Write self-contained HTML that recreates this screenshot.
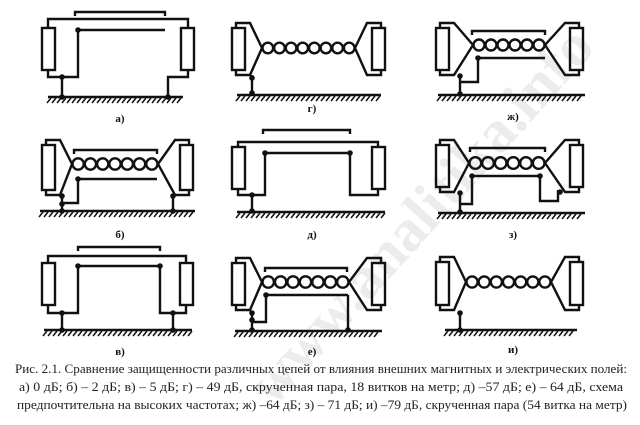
<!DOCTYPE html>
<html><head><meta charset="utf-8"><style>
html,body{margin:0;padding:0;background:#fff;width:640px;height:425px;overflow:hidden}
svg{display:block}
</style></head><body>
<svg id="s" width="640" height="425" viewBox="0 0 640 425" xmlns="http://www.w3.org/2000/svg" overflow="hidden">
<text x="420" y="235" transform="rotate(-48 420 215)" font-family="Liberation Serif, serif" font-size="60" font-weight="bold" fill="#ececec" text-anchor="middle">www.analitika.info</text>
<g id="d" stroke="#111" stroke-width="2.4" fill="none"></g>
<g font-family="Liberation Serif, serif" font-size="11" font-weight="bold" fill="#111" text-anchor="middle">
<text x="120" y="122">а)</text><text x="312" y="112">г)</text><text x="513" y="120">ж)</text>
<text x="120" y="238">б)</text><text x="312" y="238">д)</text><text x="513" y="238">з)</text>
<text x="120" y="355">в)</text><text x="312" y="355">е)</text><text x="513" y="353">и)</text>
</g>
<g font-family="Liberation Serif, serif" font-size="12.5" fill="#222">
<text x="15" y="373" textLength="612" lengthAdjust="spacingAndGlyphs">Рис. 2.1. Сравнение защищенности различных цепей от влияния внешних магнитных и электрических полей:</text>
<text x="19" y="391" textLength="604" lengthAdjust="spacingAndGlyphs">а) 0 дБ;  б) – 2 дБ;  в) – 5 дБ;  г) – 49 дБ, скрученная пара, 18 витков на метр;  д) –57 дБ;  е) – 64 дБ, схема</text>
<text x="17" y="409" textLength="610" lengthAdjust="spacingAndGlyphs">предпочтительна на высоких частотах;  ж) –64 дБ;  з) – 71 дБ;  и) –79 дБ, скрученная пара (54 витка на метр)</text>
</g>
</svg>
<script>
var g=document.getElementById('d'),o='';
function L(p){o+='<polyline points="'+p+'"/>';}
function R(x,y,h){o+='<rect x="'+x+'" y="'+y+'" width="13" height="'+(h||42)+'"/>';}
function D(x,y){o+='<circle cx="'+x+'" cy="'+y+'" r="2.8" fill="#111" stroke="none"/>';}
function G(x1,x2,y){L(x1+','+y+' '+x2+','+y);for(var x=x1+3;x<=x2;x+=5)o+='<line x1="'+x+'" y1="'+(y+1)+'" x2="'+(x-4)+'" y2="'+(y+6)+'" stroke-width="1.5"/>';}
function C(x1,x2,y,n){var r=(x2-x1)/(2*n);for(var i=0;i<n;i++)o+='<circle cx="'+(x1+r+2*r*i)+'" cy="'+y+'" r="'+(r-0.5)+'"/>';}
function B(x1,x2,y){L(x1+','+(y+4)+' '+x1+','+y+' '+x2+','+y+' '+x2+','+(y+4));}
function T(xl,xr,yt,yb,ym,c1,c2,n){
 R(xl,yt,yb-yt);R(xr,yt,yb-yt);
 L((xl+4)+','+yt+' '+(xl+4)+','+(yt-5)+' '+(xl+18)+','+(yt-5)+' '+c1+','+ym+' '+(xl+18)+','+(yb+5)+' '+(xl+4)+','+(yb+5)+' '+(xl+4)+','+yb);
 L((xr+9)+','+yt+' '+(xr+9)+','+(yt-5)+' '+(xr-5)+','+(yt-5)+' '+c2+','+ym+' '+(xr-5)+','+(yb+5)+' '+(xr+9)+','+(yb+5)+' '+(xr+9)+','+yb);
 C(c1,c2,ym,n);
}
R(42,28);R(181,28);L('48,28 48,19 188,19 188,28');B(75,165,12);
D(78,30);L('78,30 165,30');L('48,70 48,77 78,77 78,30');D(62,77);L('62,77 62,97');D(62,97);
L('188,70 188,77 168,77 168,97');D(168,97);G(48,183,97);
T(232,372,28,70,48,262,355,8);D(252,78);L('252,75 252,93');D(252,93);G(237,381,95);
T(436,570,28,70,45,473,545,6);B(472,545,31);D(478,58);L('478,58 545,58');L('478,58 478,82 460,82');D(460,76);L('460,75 460,94');D(460,94);G(438,585,95);
T(42,180,145,190,164,72,158,7);B(74,157,150);D(78,179);L('78,179 157,179');L('78,179 78,203 62,203');D(62,196);D(62,204);L('62,195 62,211');D(62,211);D(173,196);L('173,196 173,211');D(173,211);G(40,195,211);
R(232,147);R(372,147);L('238,147 238,142 378,142 378,147');B(263,350,130);D(265,153);D(350,153);L('265,153 350,153');
L('265,153 265,195 238,195 238,189');L('350,153 350,195 378,195 378,189');D(252,195);L('252,195 252,211');D(252,211);G(237,385,212);
T(436,570,145,187,163,469,545,6);B(470,545,148);D(472,176);D(540,176);L('472,176 540,176');L('472,176 472,204 460,204');L('540,176 540,201 558,201 558,190');D(560,192);D(460,193);L('460,192 460,212');D(460,212);G(438,585,213);
R(42,263);R(180,263);L('48,263 48,256 186,256 186,263');B(78,160,247);D(78,266);D(160,266);L('78,266 160,266');
L('78,266 78,313 48,313 48,305');L('160,266 160,313 186,313 186,305');D(62,313);L('62,313 62,330');D(62,330);D(173,313);L('173,313 173,330');D(173,330);G(44,192,330);
T(232,372,263,305,282,262,349,7);B(265,347,268);D(266,295);L('266,295 348,295');L('266,295 266,322 252,322');D(252,313);D(252,320);L('252,312 252,330');D(252,330);L('348,295 348,330');D(348,330);G(235,382,331);
T(436,570,262,305,282,466,551,7);D(460,313);L('460,312 460,330');D(460,330);G(445,577,330);
g.innerHTML=o;
</script>
</body></html>
